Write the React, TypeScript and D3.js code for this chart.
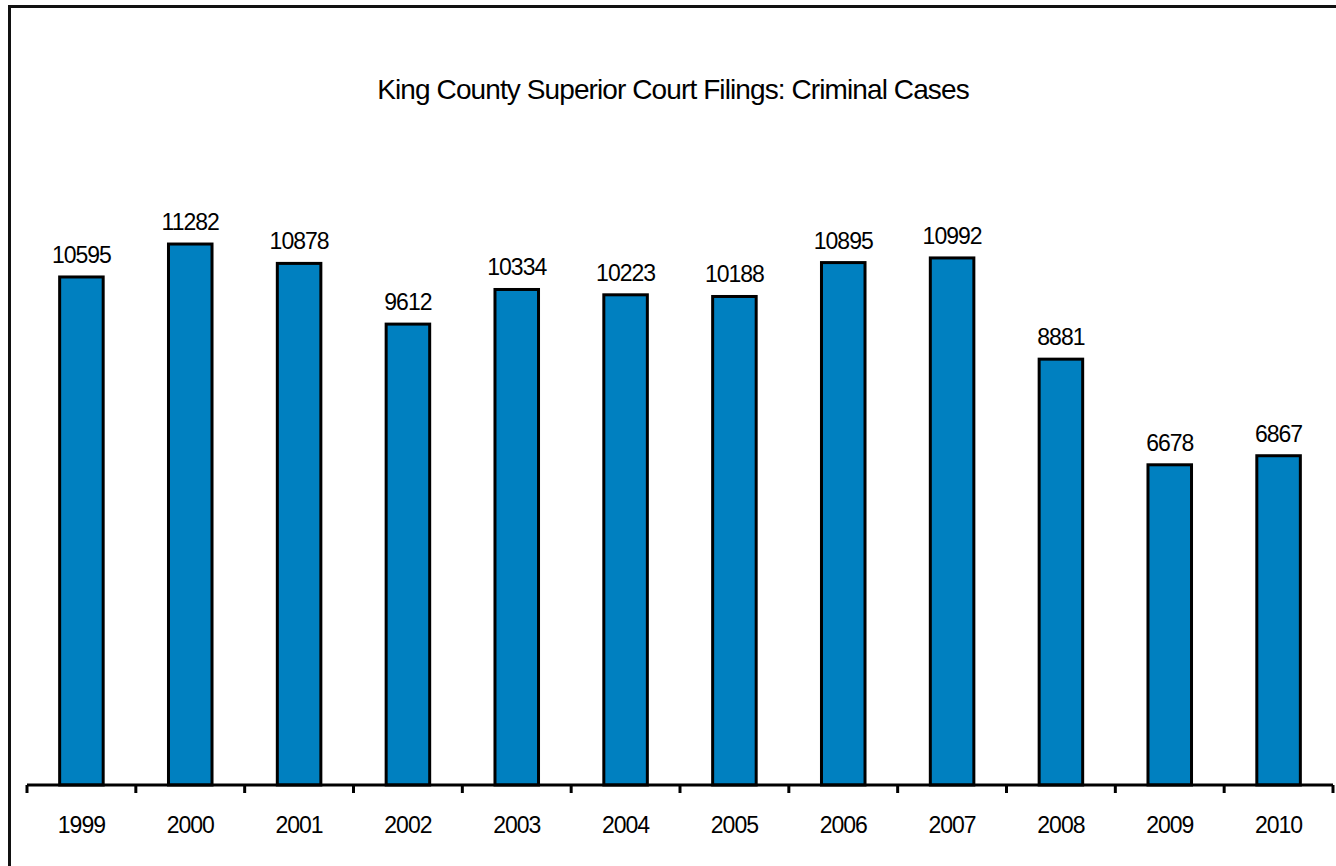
import { useEffect, useRef } from 'react';
import * as d3 from "d3";

const years: string[] = ["1999", "2000", "2001", "2002", "2003", "2004", "2005", "2006", "2007", "2008", "2009", "2010"];
const filings: number[] = [10595, 11282, 10878, 9612, 10334, 10223, 10188, 10895, 10992, 8881, 6678, 6867];
const chartTitle = "King County Superior Court Filings: Criminal Cases";

const App: React.FC = () => {
    const svgRef = useRef<SVGSVGElement | null>(null);

    useEffect(() => {
        if (!svgRef.current) return;

        const width = 1336;
        const height = 866;
        const left = 27, right = 1333;
        const baseY = 785, topY = 209.6;
        const font = "'Liberation Sans', Arial, Helvetica, sans-serif";

        const svg = d3.select(svgRef.current)
            .attr("width", width)
            .attr("height", height);
        svg.selectAll("*").remove();

        // outer frame
        svg.append("rect")
            .attr("x", 9.5).attr("y", 6.5)
            .attr("width", width + 20).attr("height", height + 20)
            .attr("fill", "white")
            .attr("stroke", "#111")
            .attr("stroke-width", 3);

        // scales
        const x = d3.scaleBand<string>()
            .domain(years)
            .range([left, right])
            .paddingInner(0.6)
            .paddingOuter(0.3);
        const xCell = d3.scaleBand<string>()
            .domain(years)
            .range([left, right])
            .padding(0);
        const y = d3.scaleLinear()
            .domain([0, 12000])
            .range([baseY, topY]);

        // title
        svg.append("text")
            .attr("x", 673)
            .attr("y", 99)
            .attr("text-anchor", "middle")
            .attr("font-family", font)
            .attr("font-size", 28)
            .attr("letter-spacing", -0.9)
            .attr("fill", "#000")
            .text(chartTitle);

        // bars
        svg.selectAll(".bar")
            .data(years)
            .enter()
            .append("rect")
            .attr("class", "bar")
            .attr("x", d => x(d) || 0)
            .attr("y", (_, i) => y(filings[i]))
            .attr("width", x.bandwidth())
            .attr("height", (_, i) => baseY - y(filings[i]))
            .attr("fill", "#0080C0")
            .attr("stroke", "#000")
            .attr("stroke-width", 3);

        // value labels
        svg.selectAll(".bar-label")
            .data(years)
            .enter()
            .append("text")
            .attr("class", "bar-label")
            .attr("x", d => (x(d) || 0) + x.bandwidth() / 2)
            .attr("y", (_, i) => y(filings[i]) - 14)
            .attr("text-anchor", "middle")
            .attr("font-family", font)
            .attr("font-size", 23)
            .attr("letter-spacing", -1)
            .attr("fill", "#000")
            .text((_, i) => `${filings[i]}`);

        // x axis line
        svg.append("line")
            .attr("x1", left).attr("x2", right)
            .attr("y1", baseY).attr("y2", baseY)
            .attr("stroke", "#000")
            .attr("stroke-width", 3);

        // ticks at category boundaries
        const bounds = years.map(d => xCell(d) || 0).concat([right]);
        svg.selectAll(".tick-mark")
            .data(bounds)
            .enter()
            .append("line")
            .attr("class", "tick-mark")
            .attr("x1", d => d).attr("x2", d => d)
            .attr("y1", baseY).attr("y2", baseY + 8)
            .attr("stroke", "#000")
            .attr("stroke-width", 3);

        // year labels
        svg.selectAll(".year-label")
            .data(years)
            .enter()
            .append("text")
            .attr("class", "year-label")
            .attr("x", d => (xCell(d) || 0) + xCell.bandwidth() / 2)
            .attr("y", 833)
            .attr("text-anchor", "middle")
            .attr("font-family", font)
            .attr("font-size", 23)
            .attr("letter-spacing", -1)
            .attr("fill", "#000")
            .text(d => d);
    }, []);

    return (
        <div style={{ position: "absolute", left: 0, top: 0, width: 1336, height: 866, overflow: "hidden" }}>
            <svg ref={svgRef} style={{ display: "block" }}></svg>
        </div>
    );
}

export default App;
